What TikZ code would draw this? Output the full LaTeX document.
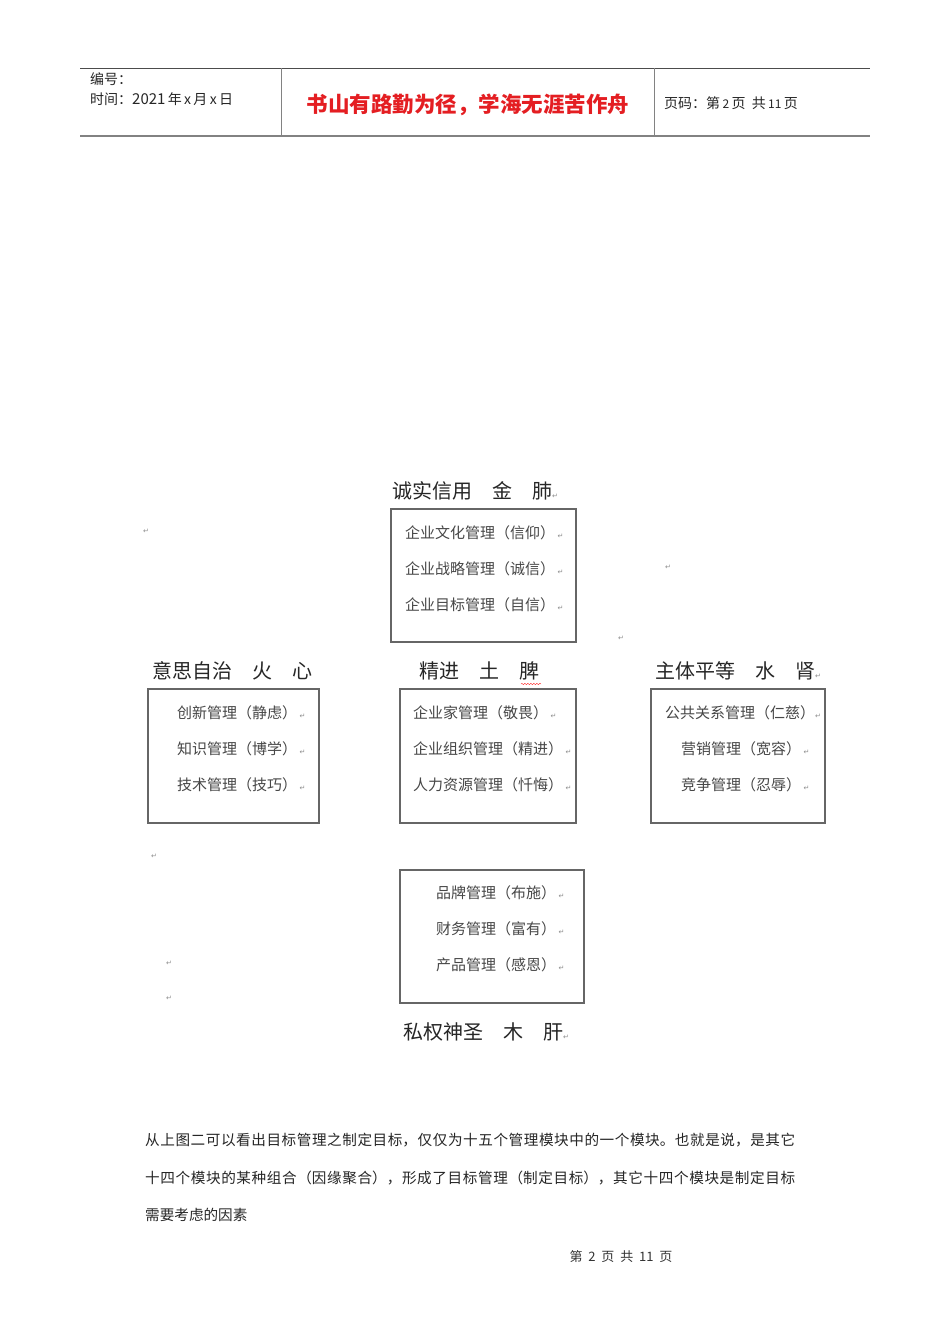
\documentclass[tikz,border=0pt]{standalone}
\usepackage{fontspec}
\setmainfont{Noto Sans CJK SC}
\newfontfamily\symfont{DejaVu Sans}
\usetikzlibrary{decorations.pathmorphing}
\definecolor{titlered}{RGB}{228,30,34}
\definecolor{rulegray}{RGB}{130,130,130}
\newcommand\retmark{{\symfont\fontsize{7}{7}\selectfont\color{black!45}↵}}
\tikzset{
  hdr/.style={anchor=base west,inner sep=0pt,text=black!85,font=\fontsize{14}{14}\selectfont},
  heading/.style={anchor=base west,inner sep=0pt,text=black!85,font=\fontsize{20}{20}\selectfont},
  item/.style={anchor=base west,inner sep=0pt,text=black!72,font=\fontsize{15}{15}\selectfont},
  box/.style={draw=black!60,line width=1.1pt},
  retnode/.style={inner sep=0pt}
}
\begin{document}
\begin{tikzpicture}[x=1pt,y=-1pt]
  \useasboundingbox[fill=white] (0,0) rectangle (950,1344);

  % page header
  \draw[black!70,line width=0.8pt] (80,68) -- (870,68);
  \draw[rulegray,line width=2pt] (80,136) -- (870,136);
  \draw[rulegray,line width=1pt] (281,68) -- (281,136);
  \draw[rulegray,line width=1pt] (654,68) -- (654,136);
  \node[hdr] (hdrno) at (90,84) {编号：};
  \node[hdr] (hdrdate) at (90,104) {时间：{\fontsize{15}{15}\selectfont 2021}\,年\,x\,月\,x\,日};
  \node[anchor=base,inner sep=0pt,text=titlered,font=\fontsize{21.5}{21.5}\selectfont\bfseries] (motto) at (468,112) {书山有路勤为径，学海无涯苦作舟};
  \node[hdr] (hdrpage) at (664,108) {页码：第\,{\fontsize{12}{12}\selectfont 2}\,页\ \ 共\,{\fontsize{12}{12}\selectfont 11}\,页};

  % metal
  \draw[box] (391,509) rectangle (576,642);
  \node[heading] (jin) at (392,498) {诚实信用　金　肺\retmark};
  \foreach \t [count=\i] in {企业文化管理（信仰）,企业战略管理（诚信）,企业目标管理（自信）}
    \node[item] (jin\i) at (405,502+36*\i) {\t\,\retmark};

  % fire
  \draw[box] (148,689) rectangle (319,823);
  \node[heading] (huo) at (152,678) {意思自治　火　心};
  \foreach \t [count=\i] in {创新管理（静虑）,知识管理（博学）,技术管理（技巧）}
    \node[item] (huo\i) at (177,682+36*\i) {\t\,\retmark};

  % earth
  \draw[box] (400,689) rectangle (576,823);
  \node[heading] (tu) at (419,678) {精进　土　脾};
  \draw[red!85,decorate,decoration={snake,amplitude=0.7pt,segment length=3pt}] (521,684) -- (541,684);
  \foreach \t [count=\i] in {企业家管理（敬畏）,企业组织管理（精进）,人力资源管理（忏悔）}
    \node[item] (tu\i) at (413,682+36*\i) {\t\,\retmark};

  % water
  \draw[box] (651,689) rectangle (825,823);
  \node[heading] (shui) at (655,678) {主体平等　水　肾\retmark};
  \node[item] (shui1) at (665,718) {公共关系管理（仁慈）\retmark};
  \node[item] (shui2) at (681,754) {营销管理（宽容）\,\retmark};
  \node[item] (shui3) at (681,790) {竞争管理（忍辱）\,\retmark};

  % wood
  \draw[box] (400,870) rectangle (584,1003);
  \foreach \t [count=\i] in {品牌管理（布施）,财务管理（富有）,产品管理（感恩）}
    \node[item] (mu\i) at (436,862+36*\i) {\t\,\retmark};
  \node[heading] (mu) at (403,1039) {私权神圣　木　肝\retmark};

  % loose paragraph marks
  \foreach \p [count=\i] in {(146,531),(668,567),(621,638),(154,856),(169,963),(169,998)}
    \node[retnode] (ret\i) at \p {\retmark};

  % body text
  \node[anchor=north west,inner sep=0pt,text width=650pt,align=justify,text=black!85,
        font=\fontsize{14.6}{37.5}\selectfont] (para) at (145,1133)
    {\XeTeXlinebreaklocale "zh"\XeTeXlinebreakskip=0pt plus 2pt minus 0.5pt
     从上图二可以看出目标管理之制定目标，仅仅为十五个管理模块中的一个模块。也就是说，是其它\linebreak
     十四个模块的某种组合（因缘聚合），形成了目标管理（制定目标），其它十四个模块是制定目标\linebreak
     需要考虑的因素};

  % page footer
  \node[anchor=base,inner sep=0pt,text=black!80,font=\fontsize{13}{13}\selectfont] (footer) at (621,1261)
    {第\ \ 2\ \ 页\ \ 共\ \ 11\ \ 页};
\end{tikzpicture}
\end{document}
